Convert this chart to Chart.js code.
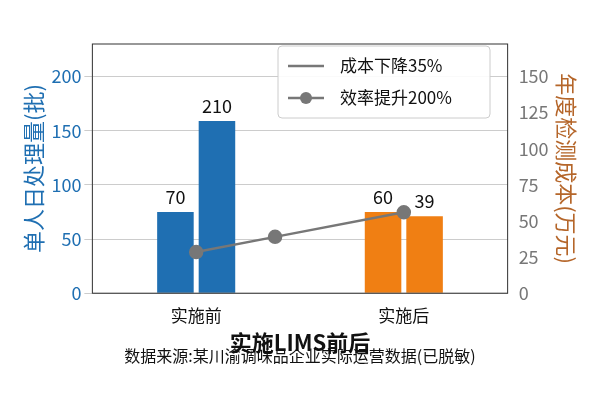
<!DOCTYPE html>
<html><head><meta charset="utf-8">
<script src="https://cdn.jsdelivr.net/npm/chart.js@4"></script>
<style>body{margin:0;background:#fff}#wrap{width:600px;height:400px}</style>
</head><body><div id="wrap"><canvas id="c"></canvas></div>
<script>
// categories and values
const categories = ['实施前', '实施后'];
const barsFirst = [75, 75];
const barsSecond = [159, 71];
const labelsFirst = ['70', '60'];
const labelsSecond = ['210', '39'];
const lineX = [0, 0.38, 1];
const lineY = [28.5, 39, 56];
const BLUE = '#1f6fb2', ORANGE = '#f07f13', BROWN = '#b5662a';
const FONT = '"Noto Sans CJK SC", "DejaVu Sans", sans-serif';

const barLabels = {
  id: 'barLabels',
  afterDatasetsDraw(chart) {
    const ctx = chart.ctx;
    ctx.save();
    ctx.font = '18px ' + FONT;
    ctx.fillStyle = '#111';
    ctx.textAlign = 'center';
    [labelsFirst, labelsSecond].forEach((labels, di) => {
      chart.getDatasetMeta(di + 1).data.forEach((bar, i) => {
        ctx.fillText(labels[i], bar.x, bar.y - 8);
      });
    });
    ctx.font = '16px ' + FONT;
    ctx.fillText('数据来源:某川渝调味品企业实际运营数据(已脱敏)', 300, 362);
    const a = chart.chartArea;
    ctx.strokeStyle = '#333'; ctx.lineWidth = 1;
    ctx.strokeRect(a.left, a.top, a.right - a.left, a.bottom - a.top);
    ctx.restore();
  }
};

new Chart(document.getElementById('c'), {
  data: {
    labels: categories,
    datasets: [
      { type: 'line', label: '效率提升200%', xAxisID: 'x2', yAxisID: 'y2',
        data: lineX.map((x, i) => ({ x, y: lineY[i] })),
        borderColor: '#777', backgroundColor: '#777', borderWidth: 2.5,
        pointRadius: 6, pointBackgroundColor: '#777', order: 0 },
      { type: 'bar', label: 'a', data: barsFirst, backgroundColor: [BLUE, ORANGE], yAxisID: 'y',
        barPercentage: 0.88, categoryPercentage: 0.8, order: 1 },
      { type: 'bar', label: 'b', data: barsSecond, backgroundColor: [BLUE, ORANGE], yAxisID: 'y',
        barPercentage: 0.88, categoryPercentage: 0.8, order: 1 }
    ]
  },
  options: {
    responsive: true, maintainAspectRatio: false, animation: false,
    layout: { padding: { left: 18, right: 18, top: 44, bottom: 44 } },
    plugins: {
      legend: { display: false },
      tooltip: { enabled: false }
    },
    scales: {
      x: { offset: true, grid: { display: false },
        ticks: { color: '#111', font: { size: 17, family: FONT }, padding: 4 },
        title: { display: true, text: '实施LIMS前后', color: '#111', font: { size: 22, weight: 'bold', family: FONT }, padding: 0 } },
      x2: { type: 'linear', display: false, min: -0.5, max: 1.5 },
      y: { position: 'left', min: 0, max: 230,
        ticks: { stepSize: 50, color: BLUE, font: { size: 18, family: FONT }, callback: v => v % 50 === 0 && v <= 200 ? v : null },
        grid: { color: '#ccc' },
        title: { display: true, text: '单人日处理量(批)', color: BLUE, font: { size: 22, family: FONT }, padding: 2 } },
      y2: { position: 'right', min: 0, max: 172.5,
        ticks: { stepSize: 25, color: '#777', font: { size: 18, family: FONT }, callback: v => v % 25 === 0 && v <= 150 ? v : null },
        grid: { display: false },
        title: { display: true, text: '年度检测成本(万元)', color: BROWN, font: { size: 22, family: FONT }, padding: 2 } }
    }
  },
  plugins: [barLabels, {
    id: 'legendBox',
    afterDraw(chart) {
      const ctx = chart.ctx;
      ctx.save();
      const x = 278, y = 46, w = 212, h = 72;
      ctx.fillStyle = 'rgba(255,255,255,0.9)';
      ctx.strokeStyle = '#ccc';
      ctx.lineWidth = 1;
      ctx.beginPath(); ctx.roundRect(x, y, w, h, 4); ctx.fill(); ctx.stroke();
      ctx.strokeStyle = '#777'; ctx.lineWidth = 2.5;
      [[y + 20, false, '成本下降35%'], [y + 52, true, '效率提升200%']].forEach(([ly, dot, txt]) => {
        ctx.beginPath(); ctx.moveTo(x + 10, ly); ctx.lineTo(x + 46, ly); ctx.stroke();
        if (dot) { ctx.fillStyle = '#777'; ctx.beginPath(); ctx.arc(x + 28, ly, 6, 0, Math.PI * 2); ctx.fill(); }
        ctx.fillStyle = '#111'; ctx.font = '17px ' + FONT; ctx.textBaseline = 'middle';
        ctx.fillText(txt, x + 62, ly);
      });
      ctx.restore();
    }
  }]
});
</script></body></html>
